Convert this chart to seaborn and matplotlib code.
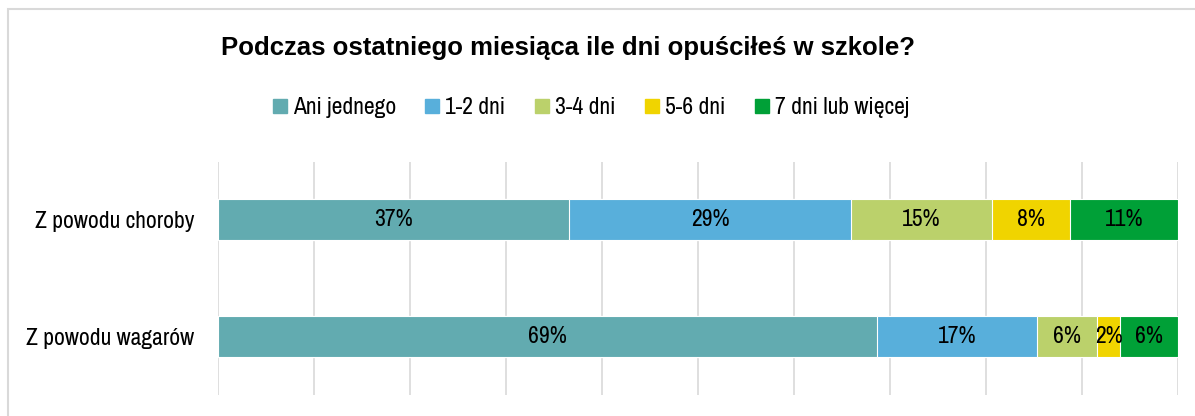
import numpy as np
import pandas as pd
import seaborn as sns
import matplotlib.pyplot as plt
from matplotlib.lines import Line2D
from matplotlib.patches import Rectangle

# data (percent shares, each row sums to 100)
categories = ['Z powodu choroby', 'Z powodu wagarów']
series = ['Ani jednego', '1-2 dni', '3-4 dni', '5-6 dni', '7 dni lub więcej']
ani_jednego = [36.6, 68.6]
dni_1_2 = [29.3, 16.7]
dni_3_4 = [14.7, 6.3]
dni_5_6 = [8.2, 2.4]
dni_7_plus = [11.2, 6.0]
colors = ['#62ABB0', '#58AFDB', '#BBD16B', '#F0D400', '#00A037']

title = 'Podczas ostatniego miesiąca ile dni opuściłeś w szkole?'

sns.set_style('white')
plt.rcParams['font.family'] = ['Archivo Narrow', 'Liberation Sans', 'DejaVu Sans']
plt.rcParams['text.color'] = 'black'
plt.rcParams['ytick.labelcolor'] = 'black'

df = pd.DataFrame({'kat': categories, series[0]: ani_jednego, series[1]: dni_1_2,
                   series[2]: dni_3_4, series[3]: dni_5_6, series[4]: dni_7_plus})
cum = df[series].cumsum(axis=1)

fig = plt.figure(figsize=(11.95, 4.16), dpi=100)
ax = fig.add_axes([218 / 1195, 1 - 395 / 416, 960 / 1195, 233 / 416])

# stacked bars: draw the cumulative totals from the back to the front
for s, c in reversed(list(zip(series, colors))):
    sns.barplot(x=cum[s], y=df['kat'], color=c, orient='h', width=0.35,
                edgecolor='white', linewidth=0.8, saturation=1, ax=ax, zorder=3)

for i in range(len(categories)):
    for s in series:
        v = df[s][i]
        ax.text(cum[s][i] - v / 2, i, '{:.0f}%'.format(v), ha='center', va='center',
                fontsize=17, color='black', zorder=5)

ax.set_xlim(0, 100)
ax.set_ylim(1.5, -0.49)
ax.set_xticks(np.arange(0, 101, 10))
ax.set_xticklabels([])
ax.grid(axis='x', color='#D9D9D9', linewidth=1.2, zorder=0)
ax.grid(axis='y', visible=False)
ax.set_xlabel('')
ax.set_ylabel('')
ax.tick_params(axis='y', length=0, labelsize=17, pad=17, labelcolor='black')
ax.tick_params(axis='x', length=0)
for sp in ax.spines.values():
    sp.set_visible(False)

# no bold narrow face available, so the title uses a bold sans at a smaller size
fig.text(568 / 1195, 1 - 48 / 416, title, ha='center', va='center', color='black',
         fontsize=18.5, fontweight='bold', family=['Liberation Sans', 'DejaVu Sans'])

handles = [Line2D([], [], marker='s', linestyle='none', markersize=9.5,
                  markerfacecolor=c, markeredgecolor=c) for c in colors]
fig.legend(handles, series, loc='center', bbox_to_anchor=(591 / 1195, 1 - 108 / 416),
           ncol=5, frameon=False, fontsize=17, handlelength=0.6, handletextpad=0.25,
           columnspacing=1.25, labelcolor='black')

# light frame around the chart area (cut off at right and bottom)
fig.patches.append(Rectangle((8 / 1195, -0.1), 1.2, 1 - 9 / 416 + 0.1,
                             transform=fig.transFigure, fill=False,
                             edgecolor='#D9D9D9', linewidth=1.5))

fig.savefig('out.png', dpi=100)
